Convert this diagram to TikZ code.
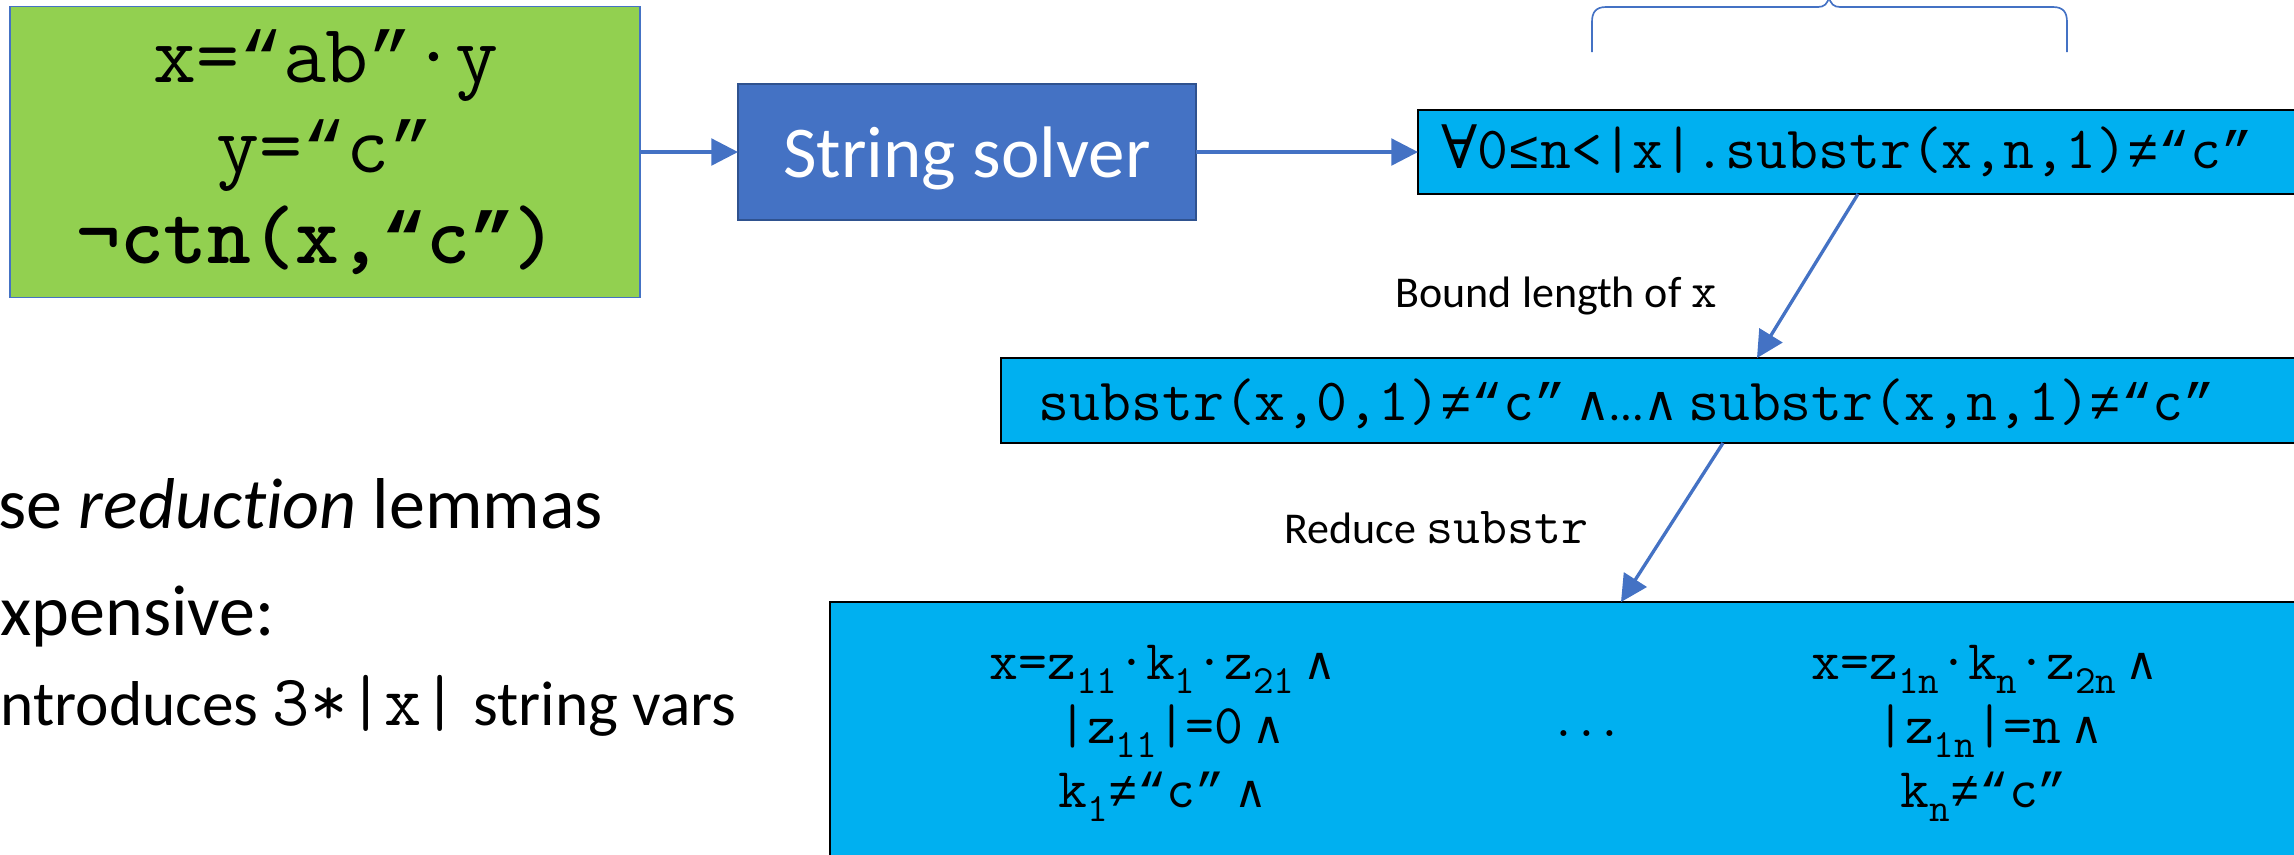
\documentclass[tikz,border=0pt]{standalone}
\usepackage{fontspec}
\setmainfont{Carlito}[Ligatures=NoCommon]
\newfontfamily\symf{DejaVu Serif}
\newfontfamily\andf{DejaVu Serif}[Scale=0.8]
\newfontfamily\lmono{Liberation Mono}[Scale=0.875]
\usetikzlibrary{arrows.meta}

\definecolor{arrowblue}{HTML}{4472C4}
\definecolor{solveredge}{HTML}{2F528F}
\definecolor{leafgreen}{HTML}{92D050}
\definecolor{cyanbox}{HTML}{00B0F0}

% lowered, smaller index for variable names
\newcommand\sbs[1]{\raisebox{-4.2pt}{\fontsize{12pt}{14pt}\selectfont #1}}
\newcommand\andsym{{\andf ∧}}
\newcommand\nes{{\lmono ≠}}
\newcommand\les{{\lmono ≤}}
\newcommand\alls{{\symf ∀}}
\newcommand\oq{{\lmono “}}
\newcommand\cq{{\lmono ”}}

\tikzset{
  x=0.3pt, y=-0.3pt,
  box/.style={inner sep=0pt, outer sep=0pt},
  conn/.style={draw=arrowblue, line width=1pt, -{Triangle[length=8pt,width=8pt]}},
  bracepath/.style={draw=arrowblue, line width=0.5pt},
  formula/.style={anchor=base, inner sep=0pt, font=\ttfamily\fontsize{25pt}{30pt}\selectfont},
  constr/.style={anchor=base west, inner sep=0pt, font=\ttfamily\fontsize{18pt}{21pt}\selectfont},
  reduced/.style={anchor=base, inner sep=0pt, font=\ttfamily\fontsize{16.8pt}{20pt}\selectfont},
  steplabel/.style={anchor=base west, inner sep=0pt, font=\fontsize{13.2pt}{16pt}\selectfont},
  bullettext/.style={anchor=base west, inner sep=0pt, font=\fontsize{21.6pt}{26pt}\selectfont},
}

\begin{document}
\begin{tikzpicture}
\useasboundingbox (0,0) rectangle (2294,854);
\clip (0,0) rectangle (2294,854);

% input constraints
\node[box, draw=arrowblue, line width=0.5pt, fill=leafgreen,
      minimum width=189pt, minimum height=87.3pt] (input) at (325,152) {};
\node[formula] (in1) at (326,82) {x=\oq ab\cq·y};
\node[formula] (in2) at (325,172) {y=\oq c\cq};
\node[formula, font=\ttfamily\bfseries\fontsize{25pt}{30pt}\selectfont] (in3) at (317,263)
      {¬ctn(x,{\bfseries\oq}c{\bfseries\cq})};

% solver
\node[box, draw=solveredge, line width=0.8pt, fill=arrowblue,
      minimum width=137.4pt, minimum height=40.8pt] (solver) at (967,152) {};
\node[anchor=base, inner sep=0pt, text=white, font=\fontsize{21.9pt}{26pt}\selectfont]
      (solvertxt) at (967,177) {String solver};

% quantified constraint
\node[box, draw=black, line width=0.6pt, fill=cyanbox,
      minimum width=270.6pt, minimum height=25.2pt] (quant) at (1869,152) {};
\node[constr] (quanttxt) at (1441,168) {\alls0\les n<|x|.substr(x,n,1)\nes\oq c\cq};

% bounded constraint
\node[box, draw=black, line width=0.6pt, fill=cyanbox,
      minimum width=395.7pt, minimum height=25.5pt] (bounded) at (1660.5,400.5) {};
\node[constr] (boundedtxt) at (1038,420)
      {substr(x,0,1)\nes\oq c\cq\,\andsym{\rmfamily\fontsize{14pt}{16pt}\selectfont …}\andsym\,substr(x,n,1)\nes\oq c\cq};

% reduced constraints
\node[box, draw=black, line width=0.6pt, fill=cyanbox,
      minimum width=447pt, minimum height=89.4pt] (reduced) at (1575,751) {};
\node[reduced] (l1) at (1163,679) {x=z\sbs{11}·k\sbs{1}·z\sbs{21}\,\andsym};
\node[reduced] (l2) at (1172,743) {|z\sbs{11}|=0\,\andsym};
\node[reduced] (l3) at (1163,807) {k\sbs{1}\nes\oq c\cq\,\andsym};
\node[reduced, font=\ttfamily\bfseries\fontsize{13pt}{15pt}\selectfont] (dots) at (1587,736) {...};
\node[reduced] (r1) at (1985,679) {x=z\sbs{1n}·k\sbs{n}·z\sbs{2n}\,\andsym};
\node[reduced] (r2) at (1990,743) {|z\sbs{1n}|=n\,\andsym};
\node[reduced] (r3) at (1984,807) {k\sbs{n}\nes\oq c\cq};

% step labels
\node[steplabel] (bound) at (1395,307) {Bound length of {\ttfamily\fontsize{15pt}{16pt}\selectfont x}};
\node[steplabel] (reduce) at (1284,543) {Reduce {\ttfamily\fontsize{15.7pt}{16pt}\selectfont substr}};

% connectors
\coordinate (c1) at (1858,0);
\coordinate (c2) at (1757,0);
\coordinate (c3) at (1723,0);
\coordinate (c4) at (1621,0);
\draw[conn] (input.east) -- (solver.west);
\draw[conn] (solver.east) -- (quant.west);
\draw[conn] (quant.south -| c1) -- (bounded.north -| c2);
\draw[conn] (bounded.south -| c3) -- (reduced.north -| c4);

% brace over the quantified constraint
\draw[bracepath] (1592,52) -- (1592,22)
  .. controls (1592,12) and (1596,7) .. (1606,7) -- (1818,7)
  .. controls (1824,7) and (1828,4) .. (1829,-4)
  .. controls (1830,4) and (1834,7) .. (1840,7) -- (2053,7)
  .. controls (2063,7) and (2067,12) .. (2067,22) -- (2067,52);

% bullet text
\node[bullettext] (b1) at (-2,528) {se \textit{reduction} lemmas};
\node[bullettext] (b2) at (0,635) {xpensive:};
\node[bullettext, font=\fontsize{19pt}{23pt}\selectfont]
      (b3) at (0,725) {ntroduces {\ttfamily\fontsize{21.7pt}{23pt}\selectfont 3*|x|} string vars};
\end{tikzpicture}
\end{document}
